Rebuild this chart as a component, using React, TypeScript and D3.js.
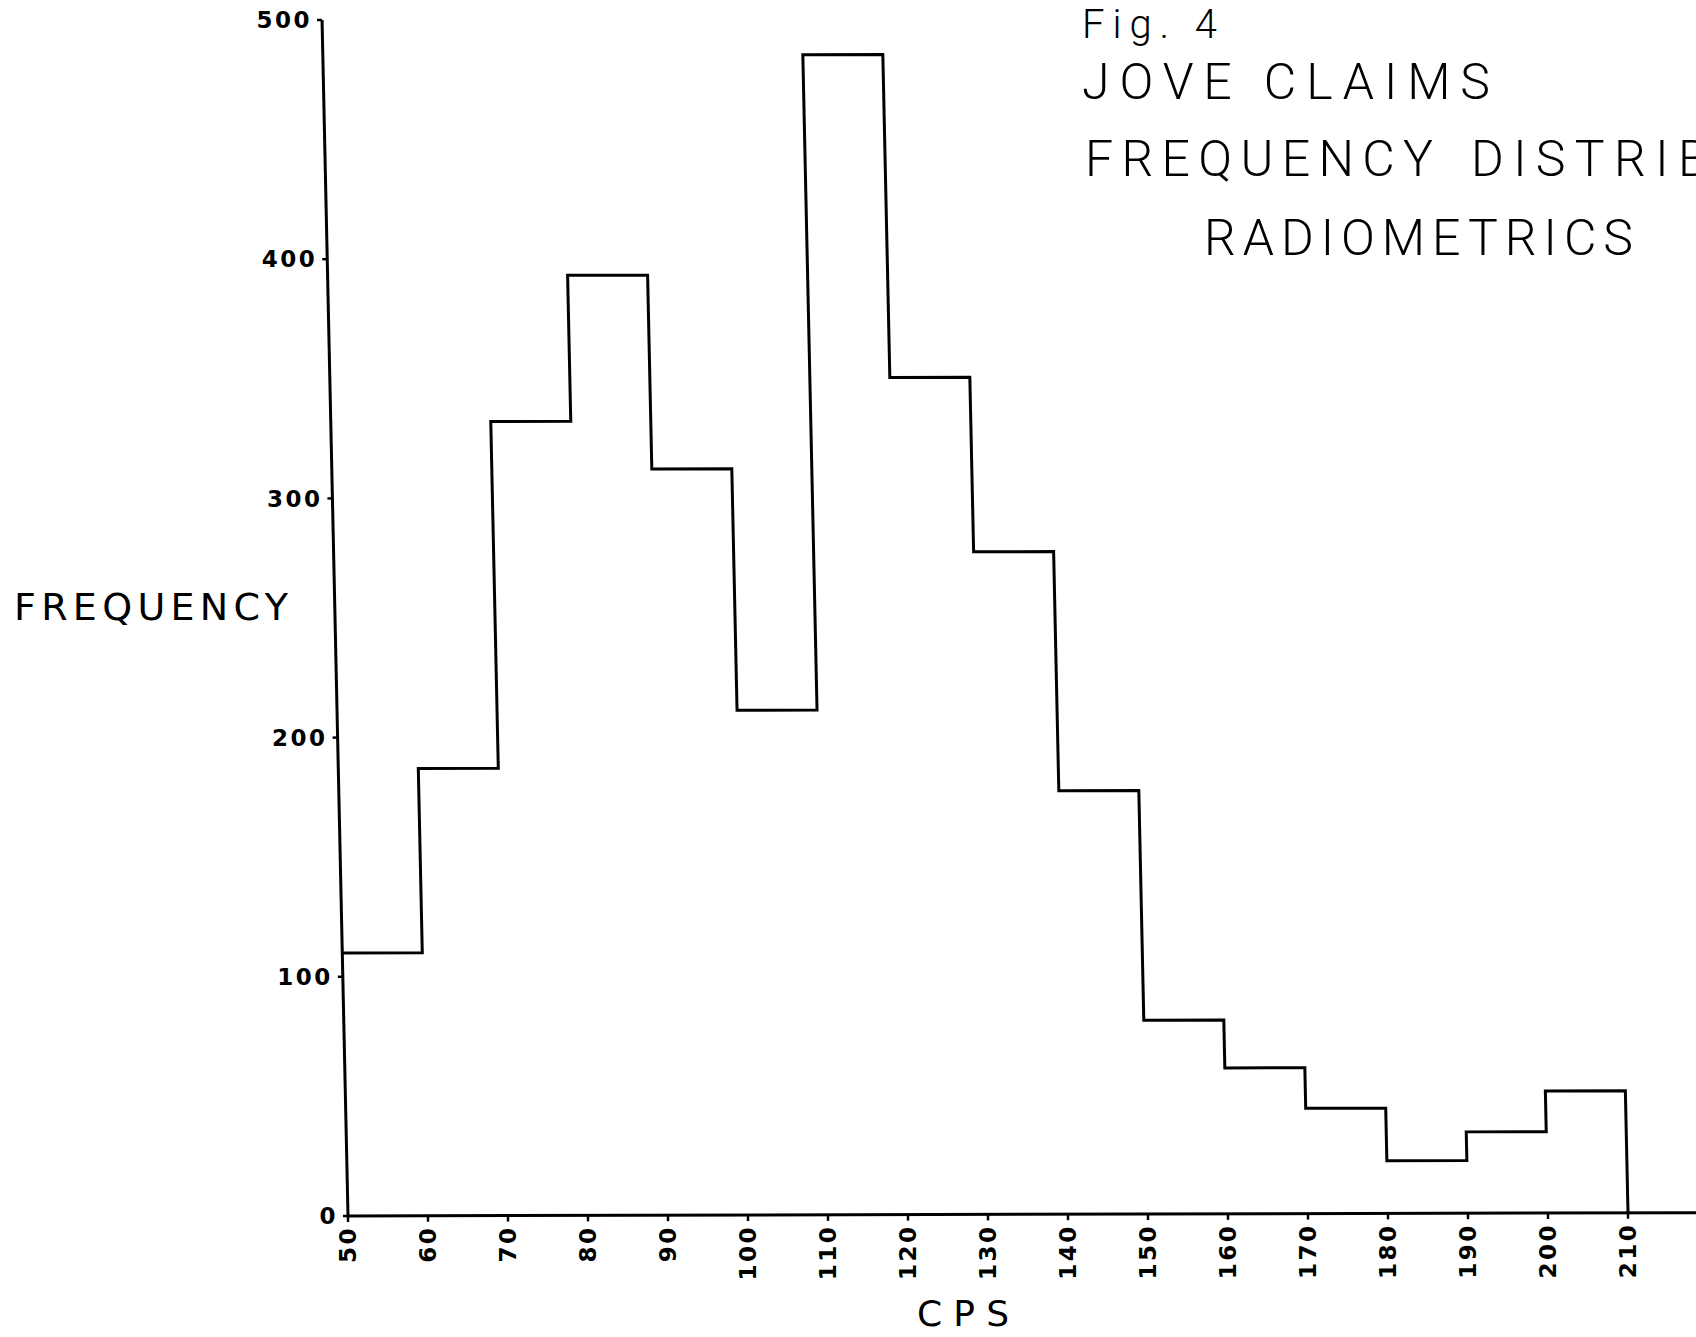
import * as d3 from "d3";
import React from "react";

// CPS bins (lower edge) and counts
const binStarts = [50, 60, 70, 80, 90, 100, 110, 120, 130, 140, 150, 160, 170, 180, 190, 200];
const counts = [110, 187, 332, 393, 312, 211, 485, 350, 277, 177, 81, 61, 44, 22, 34, 51];
const binWidth = 10;
const xTicks = [50, 60, 70, 80, 90, 100, 110, 120, 130, 140, 150, 160, 170, 180, 190, 200, 210];
const yTicks = [0, 100, 200, 300, 400, 500];
const titleLines = ["JOVE CLAIMS", "FREQUENCY", "DISTRIBUTION", "RADIOMETRICS"];

const W = 1696;
const H = 1337;

export default function App() {
  const x = d3.scaleLinear().domain([50, 210]).range([348, 1628]);
  const y = d3.scaleLinear().domain([0, 500]).range([1216, 20]);

  // the scanned page is a little skewed, so map data -> page through a small shear
  const P = (xv: number, yv: number): [number, number] => {
    const px = x(xv);
    const py = y(yv);
    return [px + 0.0217 * (py - 1216), py - 0.0025 * (px - 348)];
  };

  // histogram outline, built as steps in data space
  const pts: [number, number][] = [];
  binStarts.forEach((b, i) => {
    pts.push([b, counts[i]]);
    pts.push([b + binWidth, counts[i]]);
  });
  pts.push([binStarts[binStarts.length - 1] + binWidth, 0]);
  const line = d3
    .line<[number, number]>()
    .x((d) => P(d[0], d[1])[0])
    .y((d) => P(d[0], d[1])[1]);

  const yAxisTop = P(50, 500);
  const origin = P(50, 0);
  const xEnd = P(260, 0);

  const tickFont = "'DejaVu Sans', sans-serif";
  const titleFont = "Roboto, 'DejaVu Sans', sans-serif";

  return (
    <svg
      width={W}
      height={H}
      style={{ position: "absolute", left: 0, top: 0, background: "#fff" }}
    >
      <rect width={W} height={H} fill="#fff" />

      {/* axes */}
      <line x1={yAxisTop[0]} y1={yAxisTop[1]} x2={origin[0]} y2={origin[1]} stroke="#000" strokeWidth={3} />
      <line x1={origin[0]} y1={origin[1]} x2={xEnd[0]} y2={xEnd[1]} stroke="#000" strokeWidth={3} />

      {yTicks.map((t) => {
        const [tx, ty] = P(50, t);
        return (
          <g key={"y" + t}>
            <line x1={tx - 5} y1={ty} x2={tx} y2={ty} stroke="#000" strokeWidth={2.5} />
            <text
              x={tx - 10}
              y={ty}
              dy="0.36em"
              textAnchor="end"
              fontFamily={tickFont}
              fontWeight="bold"
              fontSize={23}
              letterSpacing={2.5}
            >
              {t}
            </text>
          </g>
        );
      })}

      {xTicks.map((t) => {
        const [tx, ty] = P(t, 0);
        return (
          <g key={"x" + t}>
            <line x1={tx} y1={ty} x2={tx} y2={ty + 6} stroke="#000" strokeWidth={2.5} />
            <text
              transform={`translate(${tx},${ty + 10}) rotate(-90)`}
              dy="0.36em"
              textAnchor="end"
              fontFamily={tickFont}
              fontWeight="bold"
              fontSize={23}
              letterSpacing={2.5}
            >
              {t}
            </text>
          </g>
        );
      })}

      {/* histogram */}
      <path d={line(pts) || ""} fill="none" stroke="#000" strokeWidth={3} strokeLinejoin="miter" />

      {/* axis titles */}
      <text x={14} y={620} fontFamily={tickFont} fontSize={38} textLength={274} lengthAdjust="spacing">
        FREQUENCY
      </text>
      <text x={917} y={1326} fontFamily={tickFont} fontSize={36} textLength={92} lengthAdjust="spacing">
        CPS
      </text>

      {/* figure title */}
      <text x={1082} y={38} fontFamily={titleFont} fontWeight={300} fontSize={40} textLength={135} lengthAdjust="spacing">
        Fig. 4
      </text>
      <text x={1082} y={99} fontFamily={titleFont} fontWeight={300} fontSize={50} textLength={408} lengthAdjust="spacing">
        {titleLines[0]}
      </text>
      <text x={1085} y={176} fontFamily={titleFont} fontWeight={300} fontSize={50} textLength={348} lengthAdjust="spacing">
        {titleLines[1]}
      </text>
      <text x={1471} y={176} fontFamily={titleFont} fontWeight={300} fontSize={50} textLength={430} lengthAdjust="spacing">
        {titleLines[2]}
      </text>
      <text x={1204} y={255} fontFamily={titleFont} fontWeight={300} fontSize={50} textLength={429} lengthAdjust="spacing">
        {titleLines[3]}
      </text>
    </svg>
  );
}
